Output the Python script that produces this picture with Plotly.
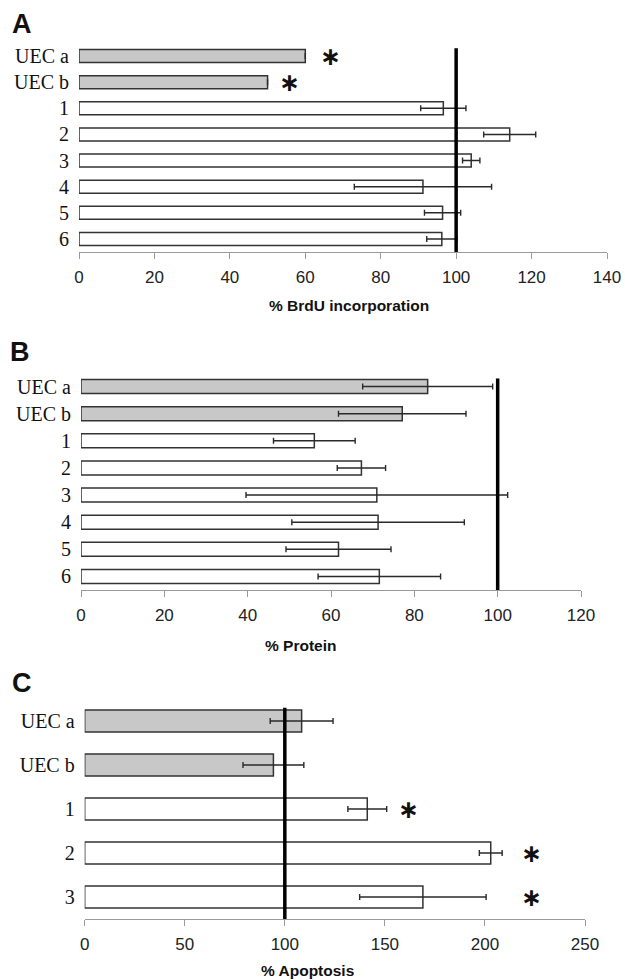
import plotly.graph_objects as go

W, H = 625, 980

# ---------------- data ----------------
cats_a = ["UEC a", "UEC b", "1", "2", "3", "4", "5", "6"]
brdu_vals = [60, 50, 96.6, 114.2, 104.0, 91.2, 96.4, 96.2]
brdu_err = [None, None, 6.0, 6.9, 2.3, 18.2, 4.8, 4.0]
brdu_star_cats = ["UEC a", "UEC b"]
brdu_star_x = [66.8, 55.7]

cats_b = ["UEC a", "UEC b", "1", "2", "3", "4", "5", "6"]
protein_vals = [83.2, 77.1, 56.0, 67.3, 71.0, 71.3, 61.8, 71.6]
protein_err = [15.6, 15.3, 9.8, 5.8, 31.4, 20.7, 12.6, 14.7]

cats_c = ["UEC a", "UEC b", "1", "2", "3"]
apop_vals = [108.4, 94.3, 141.2, 202.9, 169.0]
apop_err = [15.7, 15.2, 9.7, 5.7, 31.6]
apop_star_cats = ["1", "2", "3"]
apop_star_x = [162, 223.4, 223.4]

x_ranges = {"a": [0, 140], "b": [0, 120], "c": [0, 250]}
x_dticks = {"a": 20, "b": 20, "c": 50}
ref_value = 100
x_titles = {"a": "% BrdU incorporation", "b": "% Protein", "c": "% Apoptosis"}
panel_letters = ["A", "B", "C"]

# ---------------- style ----------------
GRAY_FILL = "#c8c8c8"
EDGE = "#333333"
AXIS = "#9a9a9a"


def px_x(p):
    return p / W


def px_y(p):
    return 1 - p / H


# pixel layout (left, right, top, bottom)
boxes = {
    "a": (79, 607, 43, 252),
    "b": (81, 581, 373, 590),
    "c": (84.7, 585, 699, 919),
}

fig = go.Figure()

panels = [
    ("a", cats_a, brdu_vals, brdu_err, "x", "y", 0.5),
    ("b", cats_b, protein_vals, protein_err, "x2", "y2", 0.52),
    ("c", cats_c, apop_vals, apop_err, "x3", "y3", 0.5),
]

for key, cats, vals, errs, xa, ya, bw in panels:
    colors = [GRAY_FILL if c.startswith("UEC") else "white" for c in cats]
    fig.add_trace(go.Bar(
        y=cats, x=vals, orientation="h",
        marker=dict(color=colors, line=dict(color=EDGE, width=1.5)),
        width=bw,
        error_x=dict(type="data", array=errs, visible=True,
                     color="#2a2a2a", thickness=1.4, width=3),
        xaxis=xa, yaxis=ya, showlegend=False, hoverinfo="skip",
    ))

layout = dict(
    width=W, height=H,
    margin=dict(l=0, r=0, t=0, b=0, pad=0, autoexpand=False),
    paper_bgcolor="white", plot_bgcolor="white",
    showlegend=False, bargap=0.5,
)

axis_names = {"a": ("xaxis", "yaxis", "x", "y"),
              "b": ("xaxis2", "yaxis2", "x2", "y2"),
              "c": ("xaxis3", "yaxis3", "x3", "y3")}
cat_lists = {"a": cats_a, "b": cats_b, "c": cats_c}

for key, (xn, yn, xr, yr) in axis_names.items():
    l, r, t, b = boxes[key]
    n = len(cat_lists[key])
    layout[xn] = dict(
        domain=[px_x(l), px_x(r)], anchor=yr, range=x_ranges[key],
        dtick=x_dticks[key], tick0=0, automargin=False,
        showline=True, linecolor=AXIS, linewidth=1,
        ticks="outside", ticklen=6, tickcolor=AXIS, tickwidth=1,
        showgrid=False, zeroline=False,
        tickfont=dict(family="Liberation Sans, Arial", size=17, color="#222"),
        ticklabelstandoff=4,
    )
    layout[yn] = dict(
        domain=[px_y(b), px_y(t)], anchor=xr, type="category",
        categoryorder="array", categoryarray=cat_lists[key],
        range=[n - 0.5, -0.5], automargin=False,
        showline=False, ticks="", showgrid=False, zeroline=False,
        tickfont=dict(family="Liberation Serif, Times New Roman", size=20, color="#111"),
        ticklabelstandoff=9,
    )

fig.update_layout(**layout)

# reference line at 100
for key, (xn, yn, xr, yr) in axis_names.items():
    n = len(cat_lists[key])
    fig.add_shape(type="line", xref=xr, yref=yr,
                  x0=ref_value, x1=ref_value, y0=-0.3, y1=n - 0.5,
                  line=dict(color="black", width=3.5), layer="above")

# asterisks (category positions given by index in the category list)
star_font = dict(family="DejaVu Sans", size=25, color="#111")
for xv, cv in zip(brdu_star_x, brdu_star_cats):
    fig.add_annotation(x=xv, y=cats_a.index(cv), xref="x", yref="y",
                       text="<b>∗</b>", showarrow=False, font=star_font)
for xv, cv in zip(apop_star_x, apop_star_cats):
    fig.add_annotation(x=xv, y=cats_c.index(cv), xref="x3", yref="y3",
                       text="<b>∗</b>", showarrow=False, font=star_font)

# axis titles
title_pos = {"a": (349, 306), "b": (300, 645), "c": (307.5, 970)}
for key, (cx, cy) in title_pos.items():
    fig.add_annotation(x=px_x(cx), y=px_y(cy), xref="paper", yref="paper",
                       text="<b>" + x_titles[key] + "</b>", showarrow=False,
                       xanchor="center", yanchor="middle",
                       font=dict(family="Liberation Sans, Arial", size=15.5, color="#111"))

# panel letters
letter_pos = [(21.5, 24), (19.5, 352.5), (21.5, 683)]
for letter, (cx, cy) in zip(panel_letters, letter_pos):
    fig.add_annotation(x=px_x(cx), y=px_y(cy), xref="paper", yref="paper",
                       text="<b>" + letter + "</b>", showarrow=False,
                       xanchor="center", yanchor="middle",
                       font=dict(family="Liberation Sans, Arial", size=27, color="#111"))

fig.write_html("out.html")
